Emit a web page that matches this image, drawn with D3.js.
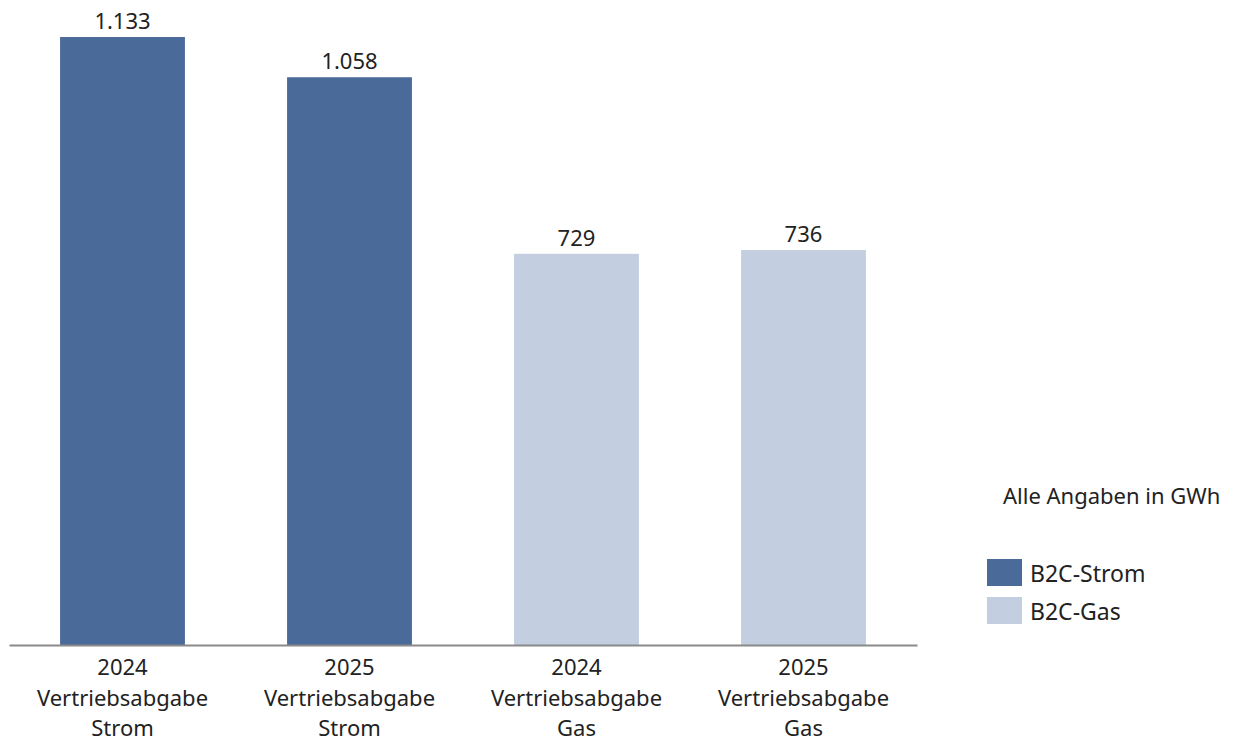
<!DOCTYPE html>
<html>
<head>
<meta charset="utf-8">
<script src="https://cdn.jsdelivr.net/npm/d3@7"></script>
<style>
  body { margin: 0; background: #fff; }
  text { font-family: "Noto Sans", "Open Sans", sans-serif; fill: #222; }
</style>
</head>
<body>
<div id="chart"></div>
<script>
// data
const years = ["2024", "2025", "2024", "2025"];
const products = ["Strom", "Strom", "Gas", "Gas"];
const series = ["B2C-Strom", "B2C-Strom", "B2C-Gas", "B2C-Gas"];
const values = [1133, 1058, 729, 736];
const valueLabels = ["1.133", "1.058", "729", "736"];
const legendNames = ["B2C-Strom", "B2C-Gas"];
const legendColors = ["#4a6a9a", "#c3cfe1"];

const w = 1233;
const h = 742;
const baseY = 645;

const svg = d3.select("#chart")
  .append("svg")
  .attr("width", w)
  .attr("height", h);

const ids = values.map((d, i) => i);

const xScale = d3.scaleBand()
  .domain(ids)
  .range([9, 917])
  .paddingInner(0.45)
  .paddingOuter(0.225);

const yScale = d3.scaleLinear()
  .domain([0, 1133])
  .range([baseY, 37]);

const color = d3.scaleOrdinal()
  .domain(legendNames)
  .range(legendColors);

svg.selectAll("rect.bar")
  .data(ids)
  .enter()
  .append("rect")
  .attr("class", "bar")
  .attr("x", i => xScale(i))
  .attr("y", i => yScale(values[i]))
  .attr("width", xScale.bandwidth())
  .attr("height", i => baseY - yScale(values[i]))
  .attr("fill", i => color(series[i]));

svg.selectAll("text.val")
  .data(ids)
  .enter()
  .append("text")
  .attr("class", "val")
  .attr("x", i => xScale(i) + xScale.bandwidth() / 2)
  .attr("y", i => yScale(values[i]) - 8)
  .attr("text-anchor", "middle")
  .style("font-size", "22px")
  .text(i => valueLabels[i]);

// x axis
const xAxis = d3.axisBottom(xScale).tickSize(0).tickFormat("");
const gx = svg.append("g")
  .attr("transform", "translate(0," + baseY + ")")
  .call(xAxis);
gx.select(".domain").attr("stroke", "#8a8a8a").attr("stroke-width", 2);

const lines = i => [years[i], "Vertriebsabgabe", products[i]];
ids.forEach(i => {
  const t = svg.append("text")
    .attr("text-anchor", "middle")
    .style("font-size", "22px");
  lines(i).forEach((s, k) => {
    t.append("tspan")
      .attr("x", xScale(i) + xScale.bandwidth() / 2)
      .attr("y", 675 + k * 30.5)
      .text(s);
  });
});

// legend
svg.append("text")
  .attr("x", 1003)
  .attr("y", 504)
  .style("font-size", "22px")
  .text("Alle Angaben in GWh");

const leg = svg.selectAll("g.leg")
  .data(legendNames)
  .enter()
  .append("g")
  .attr("class", "leg")
  .attr("transform", (d, i) => "translate(987," + (559 + i * 38) + ")");

leg.append("rect")
  .attr("width", 35)
  .attr("height", 27)
  .attr("fill", d => color(d));

leg.append("text")
  .attr("x", 43)
  .attr("y", 23)
  .style("font-size", "23px")
  .text(d => d);
</script>
</body>
</html>
